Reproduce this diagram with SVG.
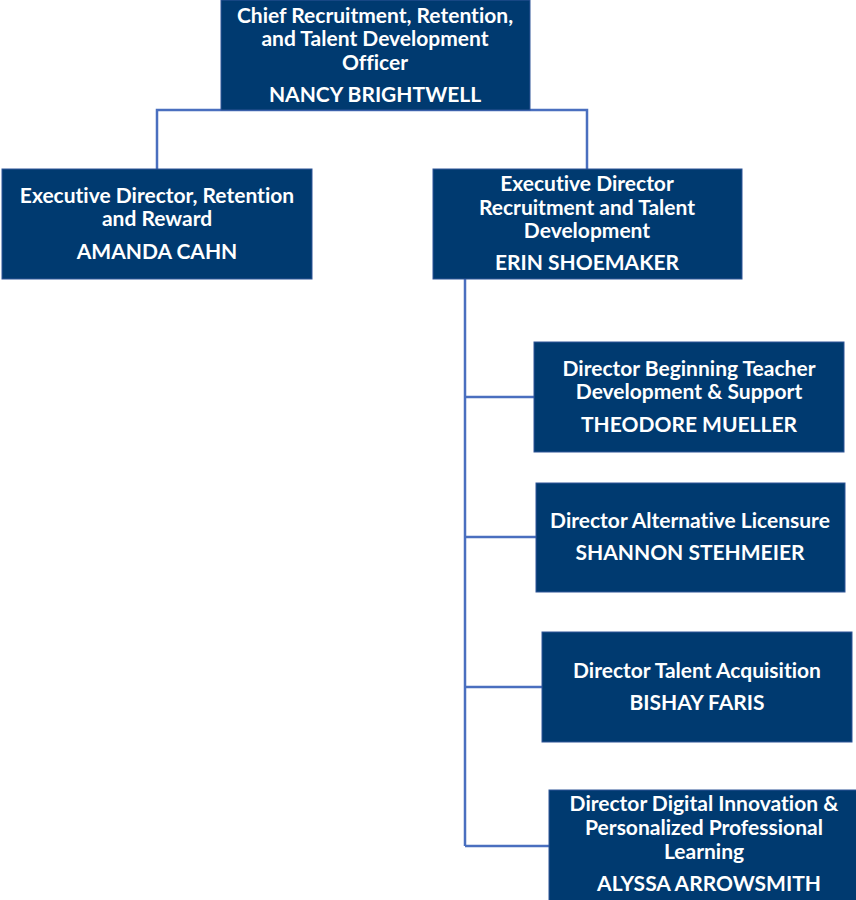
<svg xmlns="http://www.w3.org/2000/svg" width="856" height="900" viewBox="0 0 856 900">
<style>
.box{fill:#003a70;stroke:#2f5597;stroke-width:1}
.t{font-family:Lato,"Open Sans","Liberation Sans",sans-serif;font-weight:bold;font-size:21px;fill:#ffffff;text-anchor:middle;font-variant-ligatures:none}
.c{fill:none;stroke:#4a6fbf;stroke-width:2.5}
</style>
<rect width="856" height="900" fill="#ffffff"/>
<g id="connectors">
<polyline class="c" points="157,169 157,110 587,110 587,169"/>
<polyline class="c" points="465,279 465,846"/>
<line class="c" x1="465" y1="397" x2="534" y2="397"/>
<line class="c" x1="465" y1="537" x2="536" y2="537"/>
<line class="c" x1="465" y1="687" x2="542" y2="687"/>
<line class="c" x1="465" y1="846" x2="549" y2="846"/>
</g>
<g id="nancy">
<rect class="box" x="221" y="0" width="309" height="110"/>
<text class="t" x="375" y="23">Chief Recruitment, Retention,</text>
<text class="t" x="375" y="46">and Talent Development</text>
<text class="t" x="375" y="70">Officer</text>
<text class="t" x="375" y="102">NANCY BRIGHTWELL</text>
</g>
<g id="amanda">
<rect class="box" x="2" y="169" width="310" height="110"/>
<text class="t" x="157" y="203">Executive Director, Retention</text>
<text class="t" x="157" y="226">and Reward</text>
<text class="t" x="157" y="259">AMANDA CAHN</text>
</g>
<g id="erin">
<rect class="box" x="433" y="169" width="309" height="110"/>
<text class="t" x="587" y="191">Executive Director</text>
<text class="t" x="587" y="215">Recruitment and Talent</text>
<text class="t" x="587" y="238">Development</text>
<text class="t" x="587" y="270">ERIN SHOEMAKER</text>
</g>
<g id="theodore">
<rect class="box" x="534" y="342" width="310" height="110"/>
<text class="t" x="689" y="376">Director Beginning Teacher</text>
<text class="t" x="689" y="399">Development &amp; Support</text>
<text class="t" x="689" y="432">THEODORE MUELLER</text>
</g>
<g id="shannon">
<rect class="box" x="536" y="483" width="309" height="109"/>
<text class="t" x="690" y="528">Director Alternative Licensure</text>
<text class="t" x="690" y="560">SHANNON STEHMEIER</text>
</g>
<g id="bishay">
<rect class="box" x="542" y="632" width="310" height="110"/>
<text class="t" x="697" y="678">Director Talent Acquisition</text>
<text class="t" x="697" y="710">BISHAY FARIS</text>
</g>
<g id="alyssa">
<rect class="box" x="549" y="790" width="310" height="112"/>
<text class="t" x="704" y="811">Director Digital Innovation &amp;</text>
<text class="t" x="704" y="835">Personalized Professional</text>
<text class="t" x="704" y="859">Learning</text>
<text class="t" x="709" y="891">ALYSSA ARROWSMITH</text>
</g>
</svg>
